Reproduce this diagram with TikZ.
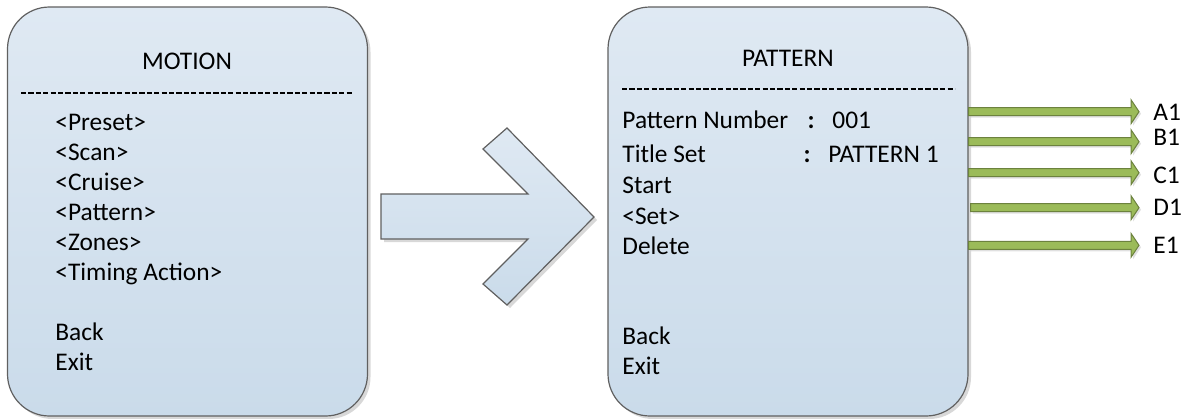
\documentclass[tikz,border=0pt]{standalone}
\usepackage{fontspec}
\setmainfont{Carlito}
\usepackage{tikz}
\usetikzlibrary{calc,shadows}
\definecolor{boxtop}{RGB}{223,233,243}
\definecolor{boxbottom}{RGB}{202,219,234}
\definecolor{olivegreen}{RGB}{155,187,89}
\definecolor{olivedark}{RGB}{108,130,62}
\definecolor{edgegray}{RGB}{96,96,96}

\begin{document}
\begin{tikzpicture}[
    x=0.5pt, y=-0.5pt,
    every node/.style={font=\fontsize{12.7}{15}\selectfont, inner sep=0pt},
    menubox/.style={draw=edgegray, line width=0.6pt, rounded corners=21pt,
        top color=boxtop, bottom color=boxbottom,
        minimum width=180pt, minimum height=204.5pt,
        drop shadow={shadow xshift=1.5pt, shadow yshift=-1.5pt, fill=black!30, opacity=0.5}},
    menuline/.style={anchor=base west},
    sepline/.style={draw=black, line width=0.9pt, dash pattern=on 2.6pt off 1.1pt},
    bigarrow/.style={draw=edgegray, line width=0.6pt, top color=boxtop, bottom color=boxbottom,
        drop shadow={shadow xshift=1.5pt, shadow yshift=-1.5pt, fill=black!30, opacity=0.5}},
    greenarrow/.style={fill=olivegreen, draw=olivedark, line width=0.5pt,
        drop shadow={shadow xshift=1pt, shadow yshift=-1pt, fill=black!30, opacity=0.4}},
    outlabel/.style={anchor=west},
]
\useasboundingbox (0,0) rectangle (1187,418);

% Menu boxes
\node[menubox] (motion) at (187.5,211.5) {};
\node[menubox] (pattern) at (788,211.5) {};

% MOTION menu
\node[anchor=base] (motiontitle) at (187,69) {MOTION};
\draw[sepline] (21,93) -- (353,93);
\foreach \txt/\y [count=\i] in {<Preset>/130, <Scan>/160, <Cruise>/190, <Pattern>/220,
    <Zones>/250, <Timing Action>/280, Back/340, Exit/370} {
    \node[menuline] (m\i) at (55,\y) {\txt};
}

% Arrow between the menus
\draw[bigarrow] (381,194) -- (528,194) -- (483,149) -- (507,128) -- (594,217)
    -- (507,305) -- (483,284) -- (528,239) -- (381,239) -- cycle;

% PATTERN menu
\node[anchor=base] (patterntitle) at (788,66) {PATTERN};
\draw[sepline] (622,89) -- (955,89);
\foreach \txt/\y [count=\i] in {Pattern Number/128.5, Title Set/162.5, Start/193.5,
    <Set>/224.5, Delete/254.5, Back/344.5, Exit/374.5} {
    \node[menuline] (p\i) at (622,\y) {\txt};
}
\node[anchor=base] (c1) at (811,128.5) {\textbf{:}};
\node[menuline] (v1) at (832,128.5) {001};
\node[anchor=base] (c2) at (807,162.5) {\textbf{:}};
\node[menuline] (v2) at (828,162.5) {PATTERN 1};

% Outputs A1..E1
\foreach \lab/\ay/\ly/\gap in {A1/111.7/112.5/0, B1/141.7/137.5/0, C1/172.7/175.8/0,
    D1/207.7/207.5/2, E1/245.3/245.8/0} {
    \coordinate (tip\lab) at (1139,\ay);
    \node[outlabel] (\lab) at (1153,\ly) {\lab};
    \draw[greenarrow] let \p1=($(pattern.east |- tip\lab)+(\gap,0)$), \p2=(tip\lab) in
        (\x1,\y1+2pt) -- (\x2-4pt,\y1+2pt) -- (\x2-4pt,\y1+6pt) -- (\p2)
        -- (\x2-4pt,\y1-6pt) -- (\x2-4pt,\y1-2pt) -- (\x1,\y1-2pt) -- cycle;
}
\end{tikzpicture}
\end{document}
